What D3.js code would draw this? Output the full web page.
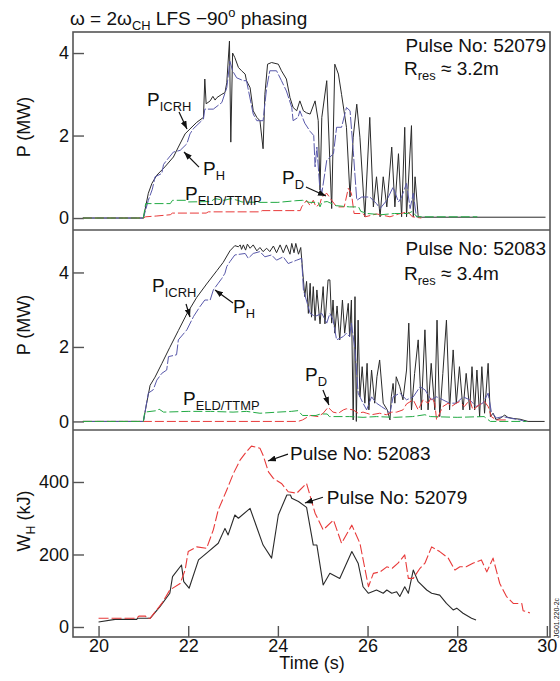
<!DOCTYPE html>
<html>
<head>
<meta charset="utf-8">
<script src="https://cdn.jsdelivr.net/npm/d3@7"></script>
<style>
  body { margin: 0; background: #fff; }
  svg { display: block; }
  text { font-family: "Liberation Sans", Arial, Helvetica, sans-serif; fill: #111; }
</style>
</head>
<body>
<svg id="chart" width="560" height="681"></svg>
<script>
// ---- Pulse 52079 (R_res ≈ 3.2 m): [time (s), power (MW)] ----
const icrh52079 = [[19.65,0],[21.0,0],[21.11,0.6],[21.19,0.84],[21.30,1.04],[21.48,1.24],[21.67,1.48],[21.78,1.72],[21.93,2.04],[22.04,2.16],[22.19,2.32],[22.34,2.44],[22.37,3.37],[22.40,2.77],[22.49,2.84],[22.55,2.95],[22.60,2.86],[22.64,2.92],[22.75,3.0],[22.82,3.04],[22.86,3.28],[22.92,4.29],[22.95,1.84],[22.99,4.0],[23.04,3.89],[23.12,3.65],[23.19,3.57],[23.27,3.49],[23.30,3.33],[23.38,3.16],[23.45,2.6],[23.53,2.44],[23.60,2.36],[23.67,1.68],[23.71,3.0],[23.77,3.73],[23.86,3.77],[24.01,3.73],[24.08,3.57],[24.19,3.37],[24.27,2.92],[24.34,2.68],[24.42,2.6],[24.49,2.84],[24.57,2.6],[24.64,2.55],[24.72,2.52],[24.83,2.84],[24.90,2.36],[24.94,0.67],[24.98,2.44],[25.09,3.33],[25.20,0.23],[25.27,3.73],[25.35,3.49],[25.42,3.0],[25.53,2.2],[25.61,0.51],[25.68,1.96],[25.76,2.76],[25.83,1.96],[25.94,0.03],[26.05,2.44],[26.13,0.27],[26.20,1.0],[26.28,0.03],[26.35,1.0],[26.43,0.27],[26.54,1.72],[26.61,0.27],[26.69,1.56],[26.76,0.03],[26.83,2.2],[26.87,0.03],[26.98,2.24],[27.02,0.03],[27.06,1.0],[27.13,0.03],[27.2,0.02],[29.97,0.02]];
const ph52079 = [[19.65,0],[21.0,0],[21.11,0.43],[21.2,0.7],[21.26,1.0],[21.41,1.08],[21.45,1.3],[21.52,1.4],[21.67,1.6],[21.82,1.64],[21.97,1.8],[22.04,2.04],[22.11,2.16],[22.34,2.4],[22.37,2.64],[22.56,2.64],[22.75,2.8],[22.86,3.16],[22.93,3.8],[22.99,3.57],[23.08,3.4],[23.23,3.33],[23.30,3.33],[23.45,2.52],[23.53,2.36],[23.67,2.36],[23.75,3.16],[23.82,3.57],[23.97,3.57],[24.08,3.33],[24.19,3.08],[24.31,2.68],[24.34,2.36],[24.45,2.44],[24.49,2.6],[24.6,2.3],[24.72,2.1],[24.8,2.0],[24.83,1.24],[24.87,1.72],[24.93,0.8],[24.98,0.6],[25.09,1.4],[25.24,1.56],[25.31,2.2],[25.42,2.2],[25.53,2.68],[25.61,2.6],[25.68,1.64],[25.76,0.43],[25.87,0.51],[26.05,0.51],[26.20,0.35],[26.28,0.23],[26.43,0.43],[26.57,0.75],[26.69,0.39],[26.76,0.51],[26.87,0.84],[26.95,0.23],[27.02,0.6],[27.09,0.03],[27.15,0.02]];
const pd52079 = [[19.65,0],[21.0,0],[21.05,0.03],[21.3,0.05],[21.6,0.08],[21.65,0.12],[22.4,0.12],[22.45,0.15],[23.6,0.15],[23.65,0.18],[24.5,0.18],[24.53,0.27],[24.64,0.43],[24.72,0.3],[24.79,0.43],[24.85,0.27],[24.94,0.35],[24.98,0.51],[25.09,0.6],[25.2,0.43],[25.31,0.27],[25.48,0.27],[25.57,0.72],[25.64,0.6],[25.7,0.11],[25.9,0.11],[25.95,0.03],[26.2,0.1],[26.5,0.03],[26.7,0.1],[26.9,0.15],[27.0,0.03],[27.2,0.0]];
const peld52079 = [[19.65,0],[21.0,0],[21.05,0.35],[21.6,0.35],[21.65,0.43],[21.95,0.43],[22.0,0.39],[22.5,0.4],[22.6,0.47],[22.8,0.43],[22.95,0.47],[23.1,0.43],[23.2,0.39],[23.6,0.38],[24.0,0.38],[24.4,0.42],[24.55,0.43],[24.7,0.38],[24.9,0.38],[24.94,0.27],[24.98,0.38],[25.1,0.4],[25.3,0.3],[25.6,0.27],[25.8,0.27],[25.85,0.16],[26.0,0.11],[26.3,0.08],[26.6,0.11],[26.9,0.11],[27.0,0.16],[27.1,0.03],[28.45,0.03]];

// ---- Pulse 52083 (R_res ≈ 3.4 m): [time (s), power (MW)] ----
const icrh52083 = [[19.65,0],[21.0,0],[21.07,0.47],[21.15,0.97],[21.26,1.19],[21.41,1.55],[21.59,1.99],[21.78,2.44],[21.97,2.89],[22.19,3.33],[22.41,3.69],[22.64,4.05],[22.78,4.27],[22.93,4.58],[23.04,4.72],[23.12,4.69],[23.16,4.74],[23.19,4.62],[23.23,4.74],[23.28,4.6],[23.32,4.76],[23.38,4.65],[23.45,4.74],[23.53,4.58],[23.6,4.67],[23.67,4.56],[23.75,4.65],[23.82,4.56],[23.9,4.71],[23.97,4.53],[24.05,4.74],[24.12,4.53],[24.19,4.74],[24.27,4.49],[24.31,4.78],[24.36,4.53],[24.4,4.78],[24.46,4.49],[24.51,4.67],[24.57,3.8],[24.6,3.35],[24.64,3.76],[24.68,2.9],[24.72,3.71],[24.75,2.8],[24.79,3.62],[24.83,2.71],[24.87,3.53],[24.94,2.62],[25.01,3.62],[25.05,2.62],[25.12,3.8],[25.16,3.8],[25.2,2.64],[25.23,3.26],[25.27,2.37],[25.32,3.1],[25.38,2.19],[25.44,3.26],[25.49,2.37],[25.57,3.17],[25.6,2.28],[25.64,3.26],[25.68,0.04],[25.72,3.35],[25.75,0.0],[25.79,2.72],[25.83,0.66],[25.88,1.47],[25.94,0.49],[25.99,1.56],[26.03,0.31],[26.09,1.38],[26.16,0.49],[26.21,1.2],[26.27,1.65],[26.35,0.49],[26.44,0.31],[26.5,0.04],[26.53,0.66],[26.57,1.02],[26.61,0.49],[26.64,1.2],[26.72,0.93],[26.79,0.58],[26.87,1.38],[26.92,2.64],[26.98,0.31],[27.05,1.29],[27.13,2.19],[27.2,0.31],[27.28,2.46],[27.35,0.31],[27.42,1.56],[27.5,0.31],[27.55,2.72],[27.61,0.13],[27.68,1.29],[27.76,2.72],[27.83,0.31],[27.91,1.92],[27.98,0.49],[28.05,1.47],[28.13,0.31],[28.2,1.29],[28.28,0.31],[28.33,1.47],[28.39,0.31],[28.44,1.38],[28.5,0.13],[28.55,1.47],[28.61,0.22],[28.69,1.56],[28.74,0.13],[28.8,0.22],[28.87,0.04],[28.95,0.08],[29.06,0.17],[29.13,0.11],[29.25,0.08],[29.4,0.06],[29.58,0.0],[29.95,0.0]];
const ph52083 = [[19.65,0],[21.0,0],[21.11,0.76],[21.22,0.85],[21.3,1.11],[21.41,1.29],[21.52,1.38],[21.56,1.74],[21.74,1.79],[21.78,2.19],[21.97,2.46],[22.12,2.82],[22.26,3.08],[22.37,3.26],[22.49,3.26],[22.56,3.53],[22.67,3.71],[22.75,3.84],[22.82,3.98],[22.86,4.16],[22.93,4.29],[23.04,4.47],[23.27,4.51],[23.34,4.38],[23.45,4.51],[23.6,4.56],[23.71,4.42],[23.86,4.47],[23.97,4.33],[24.12,4.42],[24.23,4.24],[24.42,4.33],[24.53,4.38],[24.57,3.53],[24.72,2.9],[24.83,2.82],[24.98,2.9],[25.09,2.64],[25.16,2.9],[25.23,2.73],[25.31,2.19],[25.46,2.28],[25.53,2.37],[25.6,2.28],[25.64,2.64],[25.72,1.92],[25.79,0.76],[25.9,0.49],[25.98,0.31],[26.09,0.66],[26.2,0.49],[26.31,0.4],[26.42,0.31],[26.5,0.22],[26.57,0.66],[26.72,0.76],[26.87,0.58],[27.02,0.66],[27.17,0.93],[27.28,0.85],[27.42,0.58],[27.54,0.66],[27.68,0.58],[27.83,0.49],[27.98,0.49],[28.13,0.66],[28.28,0.58],[28.42,0.4],[28.57,0.49],[28.69,0.76],[28.76,0.27],[28.87,0.09],[29.02,0.13],[29.17,0.09],[29.4,0.04],[29.51,0.0]];
const pd52083 = [[19.65,0],[21.0,0],[24.45,0.0],[24.55,0.04],[24.72,0.16],[24.9,0.13],[25.01,0.22],[25.12,0.38],[25.23,0.25],[25.35,0.22],[25.46,0.31],[25.53,0.34],[25.68,0.31],[25.79,0.22],[25.9,0.25],[25.98,0.22],[26.09,0.18],[26.27,0.22],[26.42,0.18],[26.54,0.25],[26.65,0.25],[26.79,0.31],[26.87,0.47],[27.02,0.58],[27.13,0.31],[27.24,0.58],[27.35,0.49],[27.43,0.65],[27.5,0.49],[27.54,0.04],[27.68,0.4],[27.8,0.49],[27.87,0.4],[27.98,0.49],[28.05,0.53],[28.16,0.4],[28.28,0.58],[28.35,0.31],[28.5,0.45],[28.61,0.53],[28.69,0.4],[28.76,0.13],[28.87,0.04],[29.1,0.04]];
const peld52083 = [[19.65,0],[21.0,0],[21.03,0.25],[21.3,0.29],[21.35,0.33],[21.45,0.25],[22.0,0.27],[22.5,0.27],[23.0,0.25],[23.3,0.27],[23.6,0.22],[24.0,0.25],[24.3,0.27],[24.45,0.29],[24.55,0.16],[24.85,0.16],[24.95,0.2],[25.1,0.2],[25.15,0.13],[25.6,0.13],[25.9,0.11],[26.2,0.13],[26.6,0.11],[27.0,0.13],[27.28,0.18],[27.4,0.13],[28.0,0.11],[28.6,0.13],[28.74,0.0],[29.55,0.0]];

// ---- Fast-ion energy content W_H: [time (s), energy (kJ)] ----
const wh52079 = [[20.0,14],[20.37,21],[20.85,21],[20.87,24],[21.15,24],[21.37,56],[21.59,93],[21.65,139],[21.85,171],[21.9,125],[22.02,107],[22.23,185],[22.45,208],[22.67,231],[22.82,272],[22.89,254],[23.04,309],[23.12,300],[23.38,327],[23.67,226],[23.86,190],[24.01,309],[24.2,364],[24.28,364],[24.31,355],[24.46,346],[24.64,330],[24.79,226],[24.87,226],[25.01,116],[25.16,148],[25.38,134],[25.65,208],[25.79,176],[25.9,111],[26.02,93],[26.2,102],[26.35,93],[26.43,102],[26.54,93],[26.65,97],[26.72,84],[26.83,111],[26.91,93],[27.02,157],[27.13,125],[27.32,102],[27.43,93],[27.61,88],[27.76,65],[27.91,47],[27.99,52],[28.13,38],[28.32,24],[28.42,19]];
const wh52083 = [[20.0,24],[20.85,24],[20.9,30],[21.05,30],[21.07,24],[21.15,24],[21.41,65],[21.59,102],[21.82,120],[21.93,157],[22.0,208],[22.19,221],[22.41,217],[22.56,268],[22.67,323],[22.86,378],[23.01,424],[23.16,461],[23.27,479],[23.41,499],[23.6,493],[23.67,474],[23.79,428],[23.9,410],[24.08,396],[24.23,373],[24.42,369],[24.64,396],[24.83,314],[25.01,268],[25.24,295],[25.42,231],[25.65,281],[25.83,231],[26.02,111],[26.13,148],[26.28,152],[26.43,166],[26.55,162],[26.68,176],[26.83,199],[26.91,134],[27.02,134],[27.17,162],[27.28,176],[27.43,221],[27.61,208],[27.8,190],[27.95,157],[28.06,166],[28.2,166],[28.35,176],[28.54,185],[28.66,152],[28.8,190],[28.95,120],[29.1,84],[29.25,65],[29.44,65],[29.47,45],[29.62,39]];

// ---- Axis ticks ----
const timeTicks = [20, 22, 24, 26, 28, 30];
const powerTicks = [0, 2, 4];
const energyTicks = [0, 200, 400];

// ---- Layout ----
const svg = d3.select("#chart");
const L = 73, R = 550;
const x = d3.scaleLinear().domain([19.43, 30.07]).range([L, R]);

const panels = [
  { y: d3.scaleLinear().domain([-0.29, 4.51]).range([230, 32]), ticks: powerTicks },
  { y: d3.scaleLinear().domain([-0.23, 5.14]).range([430, 230]), ticks: powerTicks },
  { y: d3.scaleLinear().domain([-27.6, 543.4]).range([637, 430]), ticks: energyTicks }
];

const COL = { black: "#2a2a2a", blue: "#5858aa", red: "#e83a3a", green: "#22aa44", frame: "#555" };

const defs = svg.append("defs");
defs.append("marker").attr("id", "arr").attr("viewBox", "0 0 8 6")
  .attr("refX", 8).attr("refY", 3).attr("markerWidth", 8).attr("markerHeight", 6)
  .attr("markerUnits", "userSpaceOnUse").attr("orient", "auto")
  .append("path").attr("d", "M0,0L8,3L0,6Z").attr("fill", "#111");

panels.forEach((p, i) => {
  const [y0, y1] = p.y.range();
  defs.append("clipPath").attr("id", "clip" + i)
    .append("rect").attr("x", L).attr("y", y1).attr("width", R - L).attr("height", y0 - y1);
});

// y axes with inward ticks
panels.forEach(p => {
  const g = svg.append("g").attr("transform", `translate(${L},0)`)
    .call(d3.axisLeft(p.y).tickValues(p.ticks).tickSize(-11).tickPadding(4).tickFormat(d3.format("d")));
  g.select(".domain").remove();
  g.selectAll(".tick line").attr("stroke", COL.frame).attr("stroke-width", 1.4);
  g.selectAll(".tick text").attr("font-size", 18).attr("fill", "#111")
    .style("font-family", '"Liberation Sans", Arial, sans-serif');
});

// time axis on the lowest panel
const gx = svg.append("g").attr("transform", "translate(0,637)")
  .call(d3.axisBottom(x).tickValues(timeTicks).tickSize(-11).tickPadding(2));
gx.select(".domain").remove();
gx.selectAll(".tick line").attr("stroke", COL.frame).attr("stroke-width", 1.4);
gx.selectAll(".tick text").attr("font-size", 18).attr("fill", "#111")
  .style("font-family", '"Liberation Sans", Arial, sans-serif');

// traces
function trace(i, data, color, dash, width) {
  const y = panels[i].y;
  svg.append("path").datum(data)
    .attr("clip-path", `url(#clip${i})`)
    .attr("fill", "none").attr("stroke", color).attr("stroke-width", width || 1)
    .attr("stroke-dasharray", dash || null).attr("stroke-linejoin", "round")
    .attr("d", d3.line().x(d => x(d[0])).y(d => y(d[1])));
}

trace(0, icrh52079, COL.black);
trace(0, ph52079, COL.blue, "12,2");
trace(0, pd52079, COL.red, "9,3");
trace(0, peld52079, COL.green, "9,3");

trace(1, icrh52083, COL.black);
trace(1, ph52083, COL.blue, "12,2");
trace(1, pd52083, COL.red, "9,3");
trace(1, peld52083, COL.green, "9,3");

trace(2, wh52079, COL.black, null, 1.1);
trace(2, wh52083, COL.red, "10,3", 1.1);

// frame: outer box with panel separators
svg.append("rect").attr("x", L).attr("y", 32).attr("width", R - L).attr("height", 637 - 32)
  .attr("fill", "none").attr("stroke", COL.frame).attr("stroke-width", 1.6);
[230, 430].forEach(yy => svg.append("line").attr("x1", L).attr("x2", R).attr("y1", yy).attr("y2", yy)
  .attr("stroke", COL.frame).attr("stroke-width", 1.6));

// rich text: parts = [[string, "n" | "sub" | "sup"], ...]
function rich(xp, yp, parts, size, anchor, subSize) {
  const t = svg.append("text").attr("x", xp).attr("y", yp).attr("font-size", size)
    .attr("text-anchor", anchor || "start");
  let shift = 0;
  parts.forEach(([s, kind]) => {
    const target = kind === "sub" ? size * 0.28 : kind === "sup" ? -size * 0.4 : 0;
    t.append("tspan").attr("dy", target - shift)
      .attr("font-size", kind === "n" ? size : (subSize || size * 0.68)).text(s);
    shift = target;
  });
  return t;
}

// annotation in data coordinates: label anchor and arrow tail -> head
function note(i, lt, lv, parts, arrow) {
  const y = panels[i].y;
  rich(x(lt), y(lv), parts, 19);
  if (arrow) {
    svg.append("line")
      .attr("x1", x(arrow[0])).attr("y1", y(arrow[1]))
      .attr("x2", x(arrow[2])).attr("y2", y(arrow[3]))
      .attr("stroke", "#111").attr("stroke-width", 1.2).attr("marker-end", "url(#arr)");
  }
}

// panel 1 annotations
note(0, 21.083, 2.715, [["P", "n"], ["ICRH", "sub"]], [21.795, 2.57, 21.973, 2.158]);
note(0, 22.33, 1.04, [["P", "n"], ["H", "sub"]], [22.241, 1.236, 21.906, 1.6]);
note(0, 21.929, 0.436, [["P", "n"], ["ELD/TTMP", "sub"]]);
note(0, 24.091, 0.824, [["P", "n"], ["D", "sub"]], [24.626, 0.752, 25.072, 0.533]);

// panel 2 annotations
note(1, 21.193, 3.477, [["P", "n"], ["ICRH", "sub"]], [21.951, 3.154, 22.04, 2.805]);
note(1, 22.999, 2.913, [["P", "n"], ["H", "sub"]], [22.999, 3.181, 22.598, 3.53]);
note(1, 21.884, 0.443, [["P", "n"], ["ELD/TTMP", "sub"]]);
note(1, 24.604, 1.087, [["P", "n"], ["D", "sub"]], [25.005, 0.846, 25.139, 0.443]);

// panel 3 annotations
note(2, 24.27, 460, [["Pulse No: 52083", "n"]], [24.225, 477, 23.779, 458]);
note(2, 25.09, 340, [["Pulse No: 52079", "n"]], [25.005, 358, 24.604, 342]);

// pulse identifiers
rich(546, 52, [["Pulse No: 52079", "n"]], 19, "end");
rich(404, 75, [["R", "n"], ["res", "sub"], [" \u2248 3.2m", "n"]], 19);
rich(546, 255, [["Pulse No: 52083", "n"]], 19, "end");
rich(404, 280, [["R", "n"], ["res", "sub"], [" \u2248 3.4m", "n"]], 19);

// title
rich(70, 25, [["\u03c9 = 2\u03c9", "n"], ["CH", "sub"], [" LFS \u221290", "n"], ["o", "sup"], [" phasing", "n"]], 19);

// axis titles
function yTitle(cy, parts) {
  rich(0, 0, parts, 18, "middle").attr("transform", `translate(30,${cy}) rotate(-90)`);
}
yTitle(127, [["P (MW)", "n"]]);
yTitle(325, [["P (MW)", "n"]]);
yTitle(521, [["W", "n"], ["H", "sub"], [" (kJ)", "n"]]);

svg.append("text").attr("x", 312).attr("y", 669).attr("text-anchor", "middle")
  .attr("font-size", 18).text("Time (s)");

// figure reference code along the right edge
svg.append("text").attr("transform", "translate(559,638) rotate(-90)")
  .attr("font-size", 7).attr("fill", "#444").text("JG01.220-2c");
</script>
</body>
</html>
